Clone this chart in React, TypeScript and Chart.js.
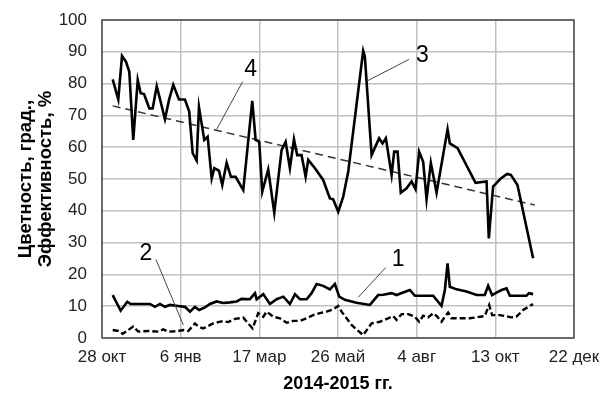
import React, { useEffect, useRef } from 'react';
import { Chart, registerables } from 'chart.js';
Chart.register(...registerables);

// x axis: days since 28 Oct 2014, ticks every 70 days
const tickLabels = ['28 окт', '6 янв', '17 мар', '26 май', '4 авг', '13 окт', '22 дек'];
const tickStepDays = 70;

// Series 3 (colour)
const s3Days = [9.5,14.5,17.8,21.3,24.3,27.8,31.8,34.4,37.4,42.1,45.1,48.7,52.2,56,59.6,63.4,68.5,73.8,77.6,80.7,84.2,86.3,91,94,97.6,99.9,104.1,107,110.9,114.7,118.9,125.7,133.7,136.7,139.9,142.6,147.9,153.3,159.8,163.4,167.2,170.8,173.7,177.6,181.2,183.5,189.5,196.8,202.8,205.7,210.2,214.6,219.1,225.9,232.4,233.9,239.9,246.6,249.6,252.6,257.7,260,263,265.9,271,275.5,279,282.2,285.8,288.8,292.6,297.7,307.5,309.5,316.4,332.4,342.2,344.2,348,354.9,360.5,363.8,369.7,383.6];
const s3Values = [81.3,75,88.7,86.9,83.7,62.3,81.1,77,76.7,72.2,72.2,79.2,74.3,68.8,74.8,79.6,75,75,71.2,58.1,55.8,72.6,62.3,63.3,50.2,53.4,52.6,48.1,55.1,50.7,50.7,46.5,74.6,62.3,61.7,46,53,39.4,59.1,61.7,53.4,62.5,57.5,57.5,50.7,56,53.4,49.7,43.9,43.6,39.7,44.4,52.3,71.7,90.3,88.5,57.5,62.8,61.2,62.8,51.3,58.6,58.6,45.7,47.1,49.2,46.8,58.6,55.4,43.6,55.1,45.7,65.6,61.2,59.7,48.8,49.2,31.3,47.6,50.2,51.6,51.3,48.1,25.1];

// Series 1 (solid, lower)
const s1Days = [9.5,16.6,22.5,25.5,42.7,47.1,51.6,56,60.5,69.4,73.8,78.3,82.7,86.5,91.6,96,102,107.9,113.8,119.8,124.2,131.6,136.1,137.6,140.5,143.5,149.4,155.4,161.3,167.2,171.7,176.1,182.1,186.5,191,196.8,202.8,207.2,211.1,216.1,226.5,238.4,245.7,250.2,257.7,262.1,268,273.9,278.4,294.7,302.1,305.1,307.5,309.5,315.5,324.4,333.3,340.6,343.6,347.1,351,355.5,360,362.9,377.7,380,383.6];
const s1Values = [13.5,8.6,11.4,10.7,10.7,9.8,10.7,9.8,10.4,10,9.8,8.3,9.8,8.8,9.6,10.7,11.5,11,11.2,11.5,12.3,12.2,14.1,12.2,13,13.8,10.7,12.2,13,10.7,13.8,12.2,12.2,14.1,17,16.4,15.3,17,13,12,11.1,10.4,13.5,13.6,14.1,13.5,14.3,15.1,13.3,13.3,10.1,15.1,23.5,16.1,15.3,14.6,13.5,13.5,16.4,13.5,14.3,15.1,15.6,13.3,13.3,14.1,13.8];

// Series 2 (dashed, lower)
const s2Days = [9.5,14.5,18.4,23.4,27.8,32.3,41.2,50.1,54.5,59,67.9,72.3,76.8,82.7,85.6,90.1,94.5,99,103.4,107.9,112.3,118.3,125.7,134,139,143.5,146.5,152.4,158.3,164.3,170.1,176.1,182.1,187.9,193.9,199.8,205.7,210.2,213.2,222.1,232.4,239.9,247.3,254.6,259.1,262.1,266.6,272.4,278.4,282.2,285.8,290.2,294.7,298.3,302.1,305.1,308,311,327.3,340.6,344.5,347.1,353.9,364.4,368.8,374.7,383.6];
const s2Values = [2.5,2.2,1.3,2.5,3.6,2,2.2,2,2.7,2,2.2,2.5,2.2,4.6,3.6,3,3.8,4.6,5,5.3,5,6,6.4,3,7.8,6.7,8.3,6.7,6.2,4.8,5.4,5.4,6.2,7.2,7.8,8.3,9,10.1,8.3,4.1,0.9,4.6,5.1,6.2,6.9,5.7,7.5,7.5,6.7,5.1,7,6.5,7.8,6.7,5.1,6.7,8,6.2,6.2,6.9,10.4,7.2,7.2,6.5,6.7,8.8,10.7];

// Series 4 (linear trend of series 3)
const s4Days = [9.5, 385];
const s4Values = [73, 41.8];

// Callout labels (data coordinates)
const calloutText = ['1', '2', '3', '4'];
const calloutTextDay = [263.5, 39.1, 285.2, 132.3];
const calloutTextValue = [24.5, 26.6, 88.7, 84.3];
const calloutFromDay = [252.6, 48, 273.1, 125.1];
const calloutFromValue = [22.2, 24.7, 87.6, 80.6];
const calloutToDay = [228, 72.3, 236.3, 102];
const calloutToValue = [12.8, 4.1, 80.9, 65.6];

const yTitle = ['Цветность, град.,', 'Эффективность, %'];
const xTitle = '2014-2015 гг.';

const zip = (xs: number[], ys: number[]) => xs.map((x, i) => ({ x, y: ys[i] }));

const framePlugin = {
  id: 'frame',
  beforeDatasetsDraw(chart: any) {
    const { ctx, chartArea: a } = chart;
    ctx.save();
    ctx.strokeStyle = '#4a4a4a';
    ctx.lineWidth = 1.5;
    ctx.strokeRect(a.left, a.top, a.right - a.left, a.bottom - a.top);
    ctx.restore();
  },
};

const calloutPlugin = {
  id: 'callouts',
  afterDatasetsDraw(chart: any) {
    const { ctx } = chart;
    const xs = chart.scales.x;
    const ys = chart.scales.y;
    ctx.save();
    ctx.strokeStyle = '#444';
    ctx.lineWidth = 1;
    ctx.fillStyle = '#000';
    ctx.font = '23px "Liberation Sans", Arial, sans-serif';
    ctx.textAlign = 'center';
    ctx.textBaseline = 'middle';
    calloutText.forEach((t, i) => {
      ctx.beginPath();
      ctx.moveTo(xs.getPixelForValue(calloutFromDay[i]), ys.getPixelForValue(calloutFromValue[i]));
      ctx.lineTo(xs.getPixelForValue(calloutToDay[i]), ys.getPixelForValue(calloutToValue[i]));
      ctx.stroke();
      ctx.fillText(t, xs.getPixelForValue(calloutTextDay[i]), ys.getPixelForValue(calloutTextValue[i]));
    });
    ctx.restore();
  },
};

export default function App() {
  const ref = useRef<HTMLCanvasElement>(null);
  useEffect(() => {
    if (!ref.current) return;
    const font = '"Liberation Sans", Arial, sans-serif';
    const chart = new Chart(ref.current, {
      type: 'line',
      data: {
        datasets: [
          { label: '3', data: zip(s3Days, s3Values), borderColor: '#000', borderWidth: 2.6, pointRadius: 0, tension: 0 },
          { label: '1', data: zip(s1Days, s1Values), borderColor: '#000', borderWidth: 2.6, pointRadius: 0, tension: 0 },
          { label: '2', data: zip(s2Days, s2Values), borderColor: '#000', borderWidth: 2.4, borderDash: [6, 3], pointRadius: 0, tension: 0 },
          { label: '4', data: zip(s4Days, s4Values), borderColor: '#333', borderWidth: 1.5, borderDash: [8, 5], pointRadius: 0, tension: 0 },
        ],
      },
      options: {
        responsive: false,
        animation: false,
        layout: { padding: { left: 0, top: 20, right: 27, bottom: 0 } },
        plugins: { legend: { display: false }, tooltip: { enabled: false } },
        scales: {
          x: {
            type: 'linear',
            min: 0,
            max: tickStepDays * (tickLabels.length - 1),
            afterFit: (s: any) => { s.height = 65; s.paddingLeft = 0; s.paddingRight = 0; },
            afterBuildTicks: (s: any) => {
              s.ticks = tickLabels.map((_, i) => ({ value: i * tickStepDays }));
            },
            ticks: {
              callback: (v: any) => tickLabels[Math.round(Number(v) / tickStepDays)] ?? '',
              color: '#222',
              font: { family: font, size: 17 },
              padding: 9,
              maxRotation: 0,
              autoSkip: false,
            },
            grid: { color: '#c0c0c0', lineWidth: 1.5, drawTicks: false },
            border: { display: false },
            title: {
              display: true,
              text: xTitle,
              color: '#000',
              font: { family: font, size: 18, weight: 'bold' },
              padding: { top: 4, bottom: 8 },
            },
          },
          y: {
            min: 0,
            max: 100,
            afterFit: (s: any) => { s.width = 102; s.paddingTop = 0; s.paddingBottom = 0; },
            ticks: {
              stepSize: 10,
              color: '#222',
              font: { family: font, size: 17 },
              padding: 15,
            },
            grid: { color: '#c0c0c0', lineWidth: 1.5, drawTicks: false },
            border: { display: false },
            title: {
              display: true,
              text: yTitle,
              color: '#000',
              font: { family: font, size: 18.5, weight: 'bold', lineHeight: 1.08 },
              padding: { top: 16, bottom: 0 },
            },
          },
        },
      },
      plugins: [framePlugin, calloutPlugin],
    } as any);
    return () => chart.destroy();
  }, []);
  return (
    <div style={{ position: 'absolute', left: 0, top: 0, width: 601, height: 403, background: '#fff' }}>
      <canvas ref={ref} width={601} height={403} style={{ display: 'block' }} />
    </div>
  );
}
